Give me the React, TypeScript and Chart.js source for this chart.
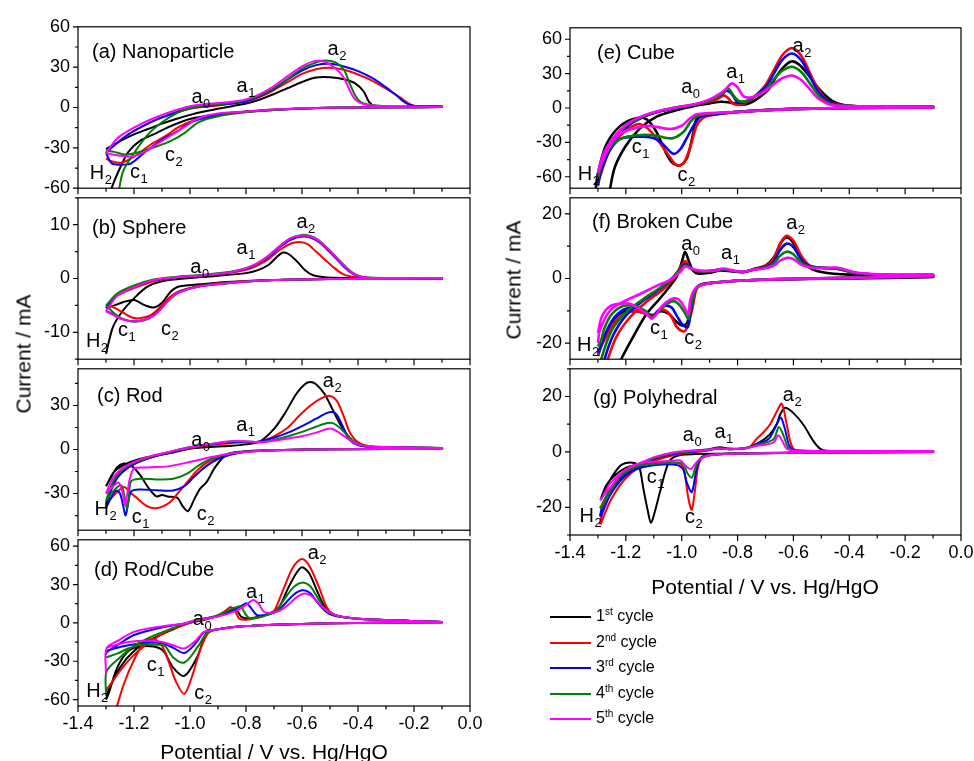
import React, { useEffect, useRef } from "react";
import { Chart, registerables } from "chart.js";

Chart.register(...registerables);

type Pt = [number, number];
type Lab = [string, string, number, number];

const FONT = '"Liberation Sans", Arial, Helvetica, sans-serif';
const CYCLE_COLORS = ["#000000", "#ff0000", "#0000ff", "#008000", "#ff00ff"];
const CYCLE_NUMS = ["1", "2", "3", "4", "5"];
const CYCLE_SUPS = ["st", "nd", "rd", "th", "th"];
const X_TICKS = [-1.4, -1.2, -1.0, -0.8, -0.6, -0.4, -0.2, 0.0];
const X_TITLE = "Potential / V vs. Hg/HgO";
const Y_TITLE = "Current / mA";

// ---------- (a) Nanoparticle : anodic sweep then cathodic sweep ----------
const nanoC1: Pt[] = [[-1.30,-31],[-1.25,-25],[-1.20,-20],[-1.15,-16],[-1.10,-12],[-1.05,-8.5],[-1.00,-5.5],[-0.95,-3],[-0.90,-1],[-0.85,1],[-0.80,3],[-0.75,6],[-0.70,10],[-0.65,14.5],[-0.60,19],[-0.55,22.3],[-0.50,22.5],[-0.45,21],[-0.41,18],[-0.38,12],[-0.36,4],[-0.34,1.2],[-0.28,0.6],[-0.10,0.5],
  [-0.10,0.3],[-0.30,0.1],[-0.50,-0.2],[-0.70,-1.4],[-0.80,-3],[-0.90,-5],[-1.00,-8.5],[-1.06,-13],[-1.12,-19],[-1.18,-25],[-1.22,-33],[-1.25,-45],[-1.28,-60],[-1.30,-75]];
const nanoC2: Pt[] = [[-1.30,-33],[-1.27,-28],[-1.22,-20],[-1.17,-14],[-1.12,-9],[-1.06,-4],[-1.00,-1],[-0.95,0.5],[-0.90,1.5],[-0.85,3],[-0.80,4.5],[-0.75,8],[-0.70,13],[-0.65,19],[-0.60,25],[-0.55,28.5],[-0.50,29.5],[-0.45,28],[-0.40,24.5],[-0.35,20],[-0.30,14],[-0.25,7.5],[-0.215,2.5],[-0.19,1],[-0.10,0.8],
  [-0.10,0.3],[-0.30,0.2],[-0.50,-0.2],[-0.60,-0.8],[-0.70,-1.8],[-0.80,-3.2],[-0.90,-5.5],[-0.98,-9],[-1.04,-14.5],[-1.09,-21.5],[-1.14,-27.5],[-1.20,-36.5],[-1.245,-41],[-1.28,-40],[-1.30,-38]];
const nanoC3: Pt[] = [[-1.30,-34],[-1.27,-28],[-1.22,-20],[-1.17,-14],[-1.12,-9],[-1.06,-4.5],[-1.00,-0.5],[-0.95,1],[-0.90,2],[-0.85,3],[-0.80,4.5],[-0.75,8.5],[-0.70,14],[-0.65,21],[-0.60,27.5],[-0.55,31.5],[-0.50,32.5],[-0.45,30.5],[-0.40,27],[-0.35,22],[-0.30,15],[-0.26,8.5],[-0.23,3.5],[-0.20,1.2],[-0.10,0.8],
  [-0.10,0.3],[-0.50,-0.2],[-0.70,-1.8],[-0.80,-3.2],[-0.90,-5.5],[-0.97,-9],[-1.01,-12.5],[-1.04,-17],[-1.10,-24],[-1.16,-33],[-1.21,-41.5],[-1.245,-42.5],[-1.28,-41.5],[-1.295,-36],[-1.30,-34]];
const nanoC4: Pt[] = [[-1.26,-70],[-1.24,-48],[-1.20,-34],[-1.15,-20],[-1.10,-11],[-1.05,-4.5],[-1.00,-0.5],[-0.95,1.5],[-0.90,2.5],[-0.85,3.5],[-0.80,5.5],[-0.75,9],[-0.70,14.5],[-0.65,21.5],[-0.60,29],[-0.55,33.5],[-0.52,35],[-0.48,33.5],[-0.45,28],[-0.43,18],[-0.41,9],[-0.39,4],[-0.36,2],[-0.30,1],[-0.10,0.6],
  [-0.10,0.3],[-0.50,-0.2],[-0.70,-1.8],[-0.80,-3.5],[-0.90,-6.5],[-0.97,-11],[-1.02,-19],[-1.07,-25],[-1.12,-29],[-1.18,-33],[-1.23,-35],[-1.27,-33],[-1.30,-32]];
const nanoC5: Pt[] = [[-1.30,-34],[-1.26,-23],[-1.20,-15],[-1.13,-8],[-1.06,-2.5],[-1.00,1],[-0.95,2.5],[-0.90,3.3],[-0.85,4.3],[-0.80,6],[-0.75,10],[-0.70,16],[-0.65,23.5],[-0.60,30.5],[-0.56,34.3],[-0.52,34],[-0.48,29],[-0.45,22],[-0.43,13],[-0.41,6],[-0.38,2.5],[-0.33,1.2],[-0.20,0.6],[-0.10,0.5],
  [-0.10,0.3],[-0.50,-0.2],[-0.70,-1.4],[-0.80,-3],[-0.90,-4.5],[-0.97,-8],[-1.02,-14.5],[-1.07,-21],[-1.12,-27.5],[-1.16,-33],[-1.21,-36.5],[-1.26,-35.5],[-1.30,-34]];
const nanoLabels: Lab[] = [["a","0",-0.975,7.4],["a","1",-0.814,15],["a","2",-0.489,42.5],["c","2",-1.071,-36],["c","1",-1.196,-48.8],["H","2",-1.332,-48]];

// ---------- (b) Sphere ----------
const sphC1: Pt[] = [[-1.30,-14],[-1.275,-9],[-1.24,-6],[-1.20,-3.7],[-1.155,-1.6],[-1.10,-0.5],[-1.00,0.1],[-0.90,0.5],[-0.80,1.0],[-0.76,1.5],[-0.72,2.5],[-0.69,4.0],[-0.67,4.8],[-0.65,4.6],[-0.62,3.3],[-0.59,1.6],[-0.56,0.6],[-0.51,0.2],[-0.40,0.1],[-0.10,0.1],
  [-0.10,0],[-0.50,-0.1],[-0.70,-0.3],[-0.85,-0.6],[-0.95,-1.0],[-1.04,-1.5],[-1.07,-2.5],[-1.10,-4.5],[-1.13,-5.4],[-1.16,-5.0],[-1.20,-4.0],[-1.24,-4.4],[-1.27,-5.0],[-1.30,-5.5]];
const sphC2: Pt[] = [[-1.30,-5.2],[-1.26,-3.2],[-1.20,-1.8],[-1.13,-0.5],[-1.05,0.2],[-0.95,0.6],[-0.85,1.1],[-0.80,1.6],[-0.76,2.4],[-0.72,3.6],[-0.68,5.3],[-0.64,6.5],[-0.61,6.8],[-0.58,6.4],[-0.55,5.0],[-0.52,3.6],[-0.49,2.2],[-0.46,1.0],[-0.43,0.4],[-0.38,0.15],[-0.10,0.1],
  [-0.10,0],[-0.50,-0.1],[-0.70,-0.3],[-0.85,-0.7],[-0.96,-1.3],[-1.04,-2.4],[-1.08,-3.8],[-1.11,-5.5],[-1.14,-6.8],[-1.18,-7.4],[-1.21,-7.2],[-1.25,-6.0],[-1.28,-5.2],[-1.30,-5.2]];
const sphC3: Pt[] = [[-1.30,-5.5],[-1.26,-3.0],[-1.20,-1.5],[-1.13,-0.3],[-1.05,0.2],[-0.95,0.6],[-0.85,1.2],[-0.80,1.8],[-0.76,2.7],[-0.72,4.0],[-0.68,5.8],[-0.64,7.2],[-0.60,7.8],[-0.57,7.6],[-0.54,6.8],[-0.51,5.4],[-0.48,3.8],[-0.45,2.2],[-0.42,0.9],[-0.39,0.3],[-0.35,0.1],[-0.10,0.1],
  [-0.10,0],[-0.50,-0.1],[-0.70,-0.3],[-0.85,-0.8],[-0.96,-1.4],[-1.04,-2.5],[-1.07,-3.7],[-1.10,-5.3],[-1.13,-6.8],[-1.16,-7.6],[-1.20,-8.0],[-1.24,-7.6],[-1.27,-6.8],[-1.30,-6.0]];
const sphC4: Pt[] = [[-1.30,-5],[-1.26,-2.8],[-1.20,-1.3],[-1.13,-0.2],[-1.05,0.3],[-0.95,0.7],[-0.85,1.3],[-0.80,1.9],[-0.76,2.8],[-0.72,4.2],[-0.68,6.0],[-0.64,7.5],[-0.60,8.1],[-0.57,7.9],[-0.54,7.1],[-0.51,5.7],[-0.48,4.1],[-0.45,2.5],[-0.42,1.1],[-0.39,0.4],[-0.35,0.15],[-0.10,0.1],
  [-0.10,0],[-0.50,-0.1],[-0.70,-0.3],[-0.85,-0.8],[-0.96,-1.4],[-1.04,-2.6],[-1.07,-3.8],[-1.10,-5.4],[-1.13,-6.9],[-1.16,-7.7],[-1.20,-8.0],[-1.24,-7.5],[-1.27,-6.5],[-1.30,-5.0]];
const sphC5: Pt[] = [[-1.30,-6.1],[-1.26,-3.2],[-1.20,-1.6],[-1.13,-0.3],[-1.05,0.2],[-0.95,0.6],[-0.85,1.2],[-0.80,1.9],[-0.76,2.8],[-0.72,4.2],[-0.68,6.0],[-0.64,7.5],[-0.60,8.0],[-0.57,7.8],[-0.54,7.0],[-0.51,5.6],[-0.48,4.0],[-0.45,2.4],[-0.42,1.0],[-0.39,0.35],[-0.35,0.1],[-0.10,0.1],
  [-0.10,0],[-0.50,-0.1],[-0.70,-0.3],[-0.85,-0.8],[-0.96,-1.4],[-1.04,-2.6],[-1.07,-3.7],[-1.10,-5.5],[-1.13,-6.9],[-1.16,-7.6],[-1.20,-8.0],[-1.24,-7.6],[-1.27,-6.9],[-1.30,-6.1]];
const sphLabels: Lab[] = [["a","2",-0.6,10.3],["a","1",-0.814,5.4],["a","0",-0.979,1.9],["c","2",-1.086,-9.5],["c","1",-1.239,-9.7],["H","2",-1.346,-11.5]];

// ---------- (c) Rod ----------
const rodC1: Pt[] = [[-1.30,-25],[-1.27,-15],[-1.23,-10],[-1.18,-6.5],[-1.12,-4],[-1.06,-2],[-1.00,0.5],[-0.95,1.5],[-0.90,2],[-0.85,2.5],[-0.80,3.5],[-0.75,5.5],[-0.70,14],[-0.66,25],[-0.62,38],[-0.59,44.5],[-0.57,46],[-0.55,44.5],[-0.52,38],[-0.49,27],[-0.46,16],[-0.43,8],[-0.40,3.5],[-0.35,1.6],[-0.10,1],
  [-0.10,0.5],[-0.50,0.2],[-0.70,-0.5],[-0.82,-1.5],[-0.87,-3.5],[-0.91,-12],[-0.94,-22],[-0.965,-27],[-0.985,-34],[-1.007,-42],[-1.025,-39],[-1.045,-33],[-1.08,-32],[-1.10,-31],[-1.12,-32],[-1.145,-27],[-1.18,-17],[-1.21,-11],[-1.235,-9.5],[-1.26,-12],[-1.285,-20],[-1.30,-25]];
const rodC2: Pt[] = [[-1.30,-38],[-1.28,-26],[-1.25,-17],[-1.20,-10],[-1.14,-5.5],[-1.07,-2],[-1.00,1],[-0.95,2.5],[-0.90,3.5],[-0.85,4.5],[-0.80,5],[-0.75,5.5],[-0.70,9],[-0.65,15],[-0.61,23],[-0.57,30],[-0.53,35],[-0.50,36.5],[-0.475,33],[-0.45,22],[-0.43,12],[-0.40,5],[-0.36,2.2],[-0.30,1.3],[-0.10,1],
  [-0.10,0.5],[-0.50,0.2],[-0.70,-0.5],[-0.82,-2],[-0.88,-4.5],[-0.93,-8],[-0.97,-13.5],[-1.00,-20],[-1.04,-29],[-1.075,-36.5],[-1.12,-40],[-1.155,-38.5],[-1.19,-33],[-1.215,-29],[-1.235,-25.5],[-1.26,-29],[-1.285,-34],[-1.30,-38]];
const rodC3: Pt[] = [[-1.30,-40],[-1.28,-27],[-1.25,-17],[-1.20,-10],[-1.14,-5.5],[-1.07,-2],[-1.00,1.5],[-0.95,3],[-0.90,4],[-0.85,5],[-0.80,5],[-0.75,5.5],[-0.70,8],[-0.65,11.5],[-0.60,16],[-0.55,21],[-0.51,25],[-0.49,25.5],[-0.475,23.5],[-0.45,14],[-0.43,6.5],[-0.40,3],[-0.35,1.8],[-0.10,1],
  [-0.10,0.5],[-0.50,0.2],[-0.70,-0.5],[-0.82,-2],[-0.90,-6.5],[-0.95,-12.5],[-0.99,-19.5],[-1.02,-25],[-1.06,-28],[-1.12,-27.8],[-1.18,-27.2],[-1.21,-28.5],[-1.222,-38],[-1.23,-45],[-1.238,-39],[-1.25,-30],[-1.265,-28],[-1.285,-34],[-1.30,-40]];
const rodC4: Pt[] = [[-1.30,-35],[-1.28,-24],[-1.25,-15],[-1.20,-9],[-1.14,-5],[-1.07,-1.5],[-1.00,1.5],[-0.95,3],[-0.90,4.5],[-0.85,5.5],[-0.80,5.5],[-0.75,5],[-0.70,6.5],[-0.65,9],[-0.60,12],[-0.55,15.5],[-0.51,18],[-0.49,18],[-0.46,14],[-0.43,8],[-0.40,4],[-0.35,2],[-0.10,1],
  [-0.10,0.5],[-0.50,0.2],[-0.70,-0.5],[-0.85,-2.5],[-0.92,-6],[-0.97,-11],[-1.01,-16.5],[-1.06,-20],[-1.12,-20.4],[-1.18,-20],[-1.21,-21.5],[-1.219,-33],[-1.225,-40.5],[-1.233,-33],[-1.245,-24.5],[-1.27,-27.5],[-1.30,-35]];
const rodC5: Pt[] = [[-1.30,-30],[-1.28,-21],[-1.25,-14],[-1.20,-8.5],[-1.14,-4.5],[-1.07,-1.5],[-1.00,1.5],[-0.95,3],[-0.90,4.5],[-0.85,5.8],[-0.80,5.5],[-0.75,5],[-0.70,6],[-0.65,7.5],[-0.60,9],[-0.55,11.5],[-0.51,14],[-0.49,14],[-0.46,10.5],[-0.43,6.5],[-0.40,3.5],[-0.35,2],[-0.10,1],
  [-0.10,0.5],[-0.50,0.2],[-0.70,-0.5],[-0.85,-2.5],[-0.92,-5],[-1.00,-8.5],[-1.08,-11.5],[-1.15,-12.2],[-1.20,-13],[-1.215,-20],[-1.224,-30],[-1.232,-38],[-1.24,-30],[-1.255,-22.5],[-1.28,-26],[-1.30,-30]];
const rodLabels: Lab[] = [["a","2",-0.506,46.1],["a","1",-0.815,16],["a","0",-0.976,5.8],["c","2",-0.958,-44.3],["c","1",-1.19,-46.5],["H","2",-1.315,-39.6]];

// ---------- (d) Rod/Cube ----------
const rcC1: Pt[] = [[-1.30,-57],[-1.25,-35],[-1.20,-22],[-1.13,-12],[-1.06,-5],[-1.00,0],[-0.95,2.5],[-0.90,5.5],[-0.86,9.5],[-0.845,11.5],[-0.83,9],[-0.815,4.5],[-0.79,3.5],[-0.75,5],[-0.71,8],[-0.68,13],[-0.65,27],[-0.62,39],[-0.60,43.5],[-0.575,39],[-0.55,27],[-0.52,13],[-0.49,7],[-0.45,4.5],[-0.37,2.8],[-0.10,0.8],
  [-0.10,0.5],[-0.40,0],[-0.60,-0.8],[-0.80,-2.5],[-0.90,-5],[-0.94,-8],[-0.975,-27],[-1.02,-41.5],[-1.06,-35],[-1.095,-22],[-1.13,-18.5],[-1.18,-18.5],[-1.22,-22],[-1.26,-35],[-1.29,-55],[-1.30,-60]];
const rcC2: Pt[] = [[-1.30,-53],[-1.25,-37.5],[-1.20,-25],[-1.14,-14.5],[-1.08,-6.5],[-1.02,-1.5],[-0.98,1.5],[-0.94,3],[-0.90,6],[-0.87,10],[-0.855,12.5],[-0.84,10],[-0.825,3.5],[-0.80,2.5],[-0.76,4],[-0.72,7],[-0.70,9],[-0.667,26],[-0.631,44],[-0.60,50],[-0.572,44],[-0.536,26],[-0.512,12.5],[-0.49,7],[-0.45,4.5],[-0.37,2.8],[-0.10,0.8],
  [-0.10,0.5],[-0.40,0],[-0.60,-0.8],[-0.80,-2.5],[-0.90,-5],[-0.935,-8],[-0.965,-22],[-0.99,-40],[-1.02,-55.5],[-1.05,-46],[-1.075,-31],[-1.10,-18],[-1.13,-12.5],[-1.16,-14],[-1.20,-29],[-1.235,-47],[-1.265,-68]];
const rcC3: Pt[] = [[-1.30,-25],[-1.298,-23],[-1.25,-16],[-1.20,-9.5],[-1.11,-4],[-1.01,0],[-0.97,2.5],[-0.90,5.5],[-0.85,9.5],[-0.815,13.5],[-0.798,15.3],[-0.78,11],[-0.76,6],[-0.72,6.5],[-0.69,9],[-0.665,14],[-0.63,22],[-0.60,25.5],[-0.572,23.5],[-0.545,16],[-0.515,9],[-0.49,6],[-0.45,4.5],[-0.37,2.8],[-0.10,0.8],
  [-0.10,0.5],[-0.40,0],[-0.60,-0.8],[-0.80,-2.5],[-0.90,-5],[-0.95,-7.5],[-0.98,-16],[-1.02,-23.5],[-1.06,-19.5],[-1.10,-16],[-1.16,-15.5],[-1.22,-17.5],[-1.27,-20],[-1.30,-22]];
const rcC4: Pt[] = [[-1.30,-56],[-1.298,-38],[-1.25,-27],[-1.20,-18],[-1.13,-10],[-1.06,-4],[-1.00,1],[-0.95,3],[-0.90,6],[-0.86,10],[-0.82,13],[-0.805,8],[-0.79,4],[-0.76,4],[-0.72,6.5],[-0.69,10],[-0.665,18],[-0.63,28],[-0.60,31.5],[-0.572,29],[-0.545,20],[-0.515,10],[-0.49,6.5],[-0.45,4.5],[-0.37,2.8],[-0.10,0.8],
  [-0.10,0.5],[-0.40,0],[-0.60,-0.8],[-0.80,-2.5],[-0.90,-5],[-0.94,-8],[-0.97,-18],[-1.02,-31],[-1.06,-27],[-1.09,-18],[-1.12,-17],[-1.17,-17],[-1.22,-20],[-1.26,-24],[-1.30,-27]];
const rcC5: Pt[] = [[-1.30,-40],[-1.298,-20],[-1.25,-13],[-1.20,-7],[-1.11,-3],[-1.01,0],[-0.97,2.5],[-0.90,5],[-0.84,9],[-0.80,14],[-0.775,18],[-0.755,15],[-0.735,8.5],[-0.71,8],[-0.68,9.5],[-0.65,14],[-0.62,20],[-0.59,23],[-0.56,20],[-0.53,13],[-0.50,8],[-0.46,5],[-0.37,2.8],[-0.10,0.8],
  [-0.10,0.5],[-0.40,0],[-0.60,-0.8],[-0.80,-2.5],[-0.90,-5],[-0.95,-7],[-0.98,-14],[-1.02,-20],[-1.06,-17.5],[-1.10,-15],[-1.16,-14],[-1.22,-15],[-1.27,-17.5],[-1.30,-19.5]];
const rcLabels: Lab[] = [["a","2",-0.56,53.8],["a","1",-0.78,23.7],["a","0",-0.97,2.5],["c","1",-1.137,-33.7],["c","2",-0.967,-55.3],["H","2",-1.345,-52.8]];

// ---------- (e) Cube ----------
const cubeC1: Pt[] = [[-1.26,-75],[-1.24,-52],[-1.20,-33],[-1.15,-18],[-1.09,-7.5],[-1.02,-2],[-0.95,2],[-0.90,4],[-0.86,5.5],[-0.82,4.5],[-0.79,3],[-0.76,4],[-0.73,8],[-0.69,16],[-0.66,28],[-0.63,37],[-0.605,40.7],[-0.58,38],[-0.55,30],[-0.52,20],[-0.49,12],[-0.46,6],[-0.42,2.5],[-0.35,1.3],[-0.10,1],
  [-0.10,0.5],[-0.40,0],[-0.60,-0.8],[-0.80,-3.4],[-0.90,-6],[-0.945,-9],[-0.958,-21],[-0.98,-43],[-1.005,-50],[-1.03,-48.5],[-1.055,-40],[-1.09,-21],[-1.125,-10],[-1.16,-8.7],[-1.22,-15.6],[-1.27,-32],[-1.30,-57],[-1.31,-75]];
const cubeC2: Pt[] = [[-1.30,-68],[-1.28,-44],[-1.24,-28],[-1.19,-15],[-1.13,-7],[-1.07,-2.5],[-1.00,1],[-0.95,3],[-0.90,5.5],[-0.87,8],[-0.85,11],[-0.835,9],[-0.815,3.6],[-0.79,3],[-0.76,6],[-0.73,12],[-0.70,20],[-0.67,33],[-0.64,46],[-0.605,52.3],[-0.57,45],[-0.54,30],[-0.51,16],[-0.48,7],[-0.45,3.5],[-0.37,1.4],[-0.10,1],
  [-0.10,0.5],[-0.40,0],[-0.60,-0.8],[-0.80,-3.4],[-0.90,-6.5],[-0.925,-9],[-0.947,-15.6],[-0.97,-34.6],[-0.994,-48.5],[-1.018,-49.8],[-1.042,-43],[-1.09,-26.5],[-1.126,-17],[-1.16,-14.2],[-1.22,-24],[-1.26,-38],[-1.29,-58],[-1.30,-68]];
const cubeC3: Pt[] = [[-1.30,-66],[-1.28,-43],[-1.24,-27],[-1.19,-15],[-1.13,-7],[-1.07,-2.5],[-1.00,1],[-0.95,3],[-0.90,6.5],[-0.86,11],[-0.84,15],[-0.82,12],[-0.80,5],[-0.77,5.5],[-0.74,10],[-0.70,18],[-0.67,30],[-0.64,42],[-0.605,47.6],[-0.57,41],[-0.54,27],[-0.51,14],[-0.48,6.5],[-0.45,3],[-0.37,1.4],[-0.10,1],
  [-0.10,0.5],[-0.40,0],[-0.60,-0.8],[-0.80,-3.4],[-0.90,-6],[-0.935,-8],[-0.958,-15.6],[-0.982,-26.3],[-1.005,-36],[-1.03,-40],[-1.066,-32],[-1.10,-26.3],[-1.16,-25],[-1.22,-27],[-1.26,-38],[-1.29,-56],[-1.30,-66]];
const cubeC4: Pt[] = [[-1.30,-62],[-1.28,-41],[-1.24,-26],[-1.19,-14],[-1.13,-6.5],[-1.07,-2],[-1.00,1.2],[-0.95,3.2],[-0.90,6.5],[-0.86,11.5],[-0.833,16.8],[-0.815,11],[-0.797,6.3],[-0.77,6],[-0.74,10],[-0.70,16],[-0.67,25],[-0.64,32.5],[-0.605,36],[-0.57,31],[-0.54,21],[-0.51,11],[-0.48,5],[-0.45,2.5],[-0.37,1.4],[-0.10,1],
  [-0.10,0.5],[-0.40,0],[-0.60,-0.8],[-0.80,-3.4],[-0.90,-5],[-0.947,-7.3],[-0.97,-12.5],[-0.994,-21],[-1.036,-26.5],[-1.10,-23.8],[-1.16,-23.8],[-1.22,-27],[-1.26,-36],[-1.29,-52],[-1.30,-62]];
const cubeC5: Pt[] = [[-1.30,-57],[-1.28,-40],[-1.245,-26],[-1.19,-13],[-1.13,-6],[-1.07,-2],[-1.00,1.5],[-0.95,3.5],[-0.90,7.5],[-0.86,13],[-0.84,17],[-0.821,21.5],[-0.80,18],[-0.78,10.5],[-0.756,9.1],[-0.73,11],[-0.70,15],[-0.67,21],[-0.64,26],[-0.605,28.4],[-0.57,24],[-0.54,16],[-0.51,8],[-0.48,4],[-0.45,2.2],[-0.37,1.4],[-0.10,1],
  [-0.10,0.5],[-0.40,0],[-0.60,-0.8],[-0.80,-3.4],[-0.90,-4.5],[-0.947,-5.5],[-0.97,-9],[-1.00,-15.5],[-1.042,-18.3],[-1.114,-15.6],[-1.16,-17],[-1.221,-22.5],[-1.26,-34],[-1.29,-50],[-1.30,-57]];
const cubeLabels: Lab[] = [["a","2",-0.583,52.9],["a","1",-0.821,30.4],["a","0",-0.982,17.8],["c","1",-1.161,-34.8],["c","2",-0.997,-59.4],["H","2",-1.346,-56.7]];

// ---------- (f) Broken Cube ----------
const brkC1: Pt[] = [[-1.23,-28],[-1.215,-24.7],[-1.173,-17.9],[-1.126,-11],[-1.078,-6.2],[-1.042,-2.3],[-1.018,0.6],[-1.00,5],[-0.988,8.3],[-0.975,5.5],[-0.96,2.5],[-0.94,1.5],[-0.90,1.8],[-0.86,2.5],[-0.82,2.2],[-0.78,2],[-0.74,3],[-0.70,4],[-0.67,6.5],[-0.645,11],[-0.624,12.7],[-0.60,11],[-0.575,6.5],[-0.545,3.5],[-0.50,2],[-0.40,1.2],[-0.10,0.8],
  [-0.10,0.5],[-0.40,0],[-0.70,-0.4],[-0.85,-1],[-0.93,-1.8],[-0.955,-4],[-0.97,-10],[-0.982,-14],[-1.00,-14.5],[-1.024,-13],[-1.045,-11],[-1.075,-10.1],[-1.10,-11.3],[-1.125,-11],[-1.16,-10.1],[-1.21,-10.3],[-1.25,-13.5],[-1.28,-19],[-1.30,-24]];
const brkC2: Pt[] = [[-1.27,-28],[-1.263,-24.7],[-1.233,-17.9],[-1.185,-12],[-1.126,-7.2],[-1.066,-3.3],[-1.03,0],[-1.005,3.5],[-0.988,5.4],[-0.975,4],[-0.96,2.8],[-0.94,2.2],[-0.90,2.2],[-0.86,2.8],[-0.82,2.4],[-0.78,2],[-0.74,2.8],[-0.708,3.5],[-0.672,5.9],[-0.648,10.8],[-0.624,13.2],[-0.60,11.7],[-0.571,6.9],[-0.541,4],[-0.493,3.3],[-0.445,3],[-0.374,1.7],[-0.255,1.1],[-0.10,1.1],
  [-0.10,0.8],[-0.40,0.2],[-0.70,-0.3],[-0.85,-1],[-0.93,-2],[-0.947,-3.3],[-0.964,-10.1],[-0.982,-15.4],[-0.994,-16.4],[-1.018,-15],[-1.036,-12],[-1.054,-10.1],[-1.078,-9.6],[-1.096,-11.1],[-1.114,-11.6],[-1.137,-10.6],[-1.173,-10.1],[-1.209,-11.1],[-1.245,-14],[-1.269,-17.9],[-1.293,-21.7],[-1.30,-24]];
const brkC3: Pt[] = [[-1.28,-28],[-1.275,-24.7],[-1.245,-17.5],[-1.20,-11.5],[-1.14,-7],[-1.08,-3.3],[-1.035,0],[-1.005,3],[-0.988,4.5],[-0.975,3.8],[-0.96,2.8],[-0.94,2.3],[-0.90,2.3],[-0.86,2.8],[-0.82,2.4],[-0.78,2],[-0.74,2.8],[-0.708,3.3],[-0.672,5],[-0.648,8.8],[-0.624,10.8],[-0.60,9.7],[-0.571,5.8],[-0.541,3.8],[-0.493,3.3],[-0.445,3],[-0.374,1.7],[-0.255,1.1],[-0.10,1.1],
  [-0.10,0.8],[-0.40,0.2],[-0.70,-0.3],[-0.85,-1],[-0.93,-2],[-0.95,-3.5],[-0.965,-9],[-0.978,-15],[-0.995,-14.5],[-1.018,-11.5],[-1.036,-9],[-1.06,-8.5],[-1.085,-10],[-1.108,-12],[-1.13,-10.3],[-1.17,-9],[-1.21,-9.7],[-1.245,-12.5],[-1.27,-16.5],[-1.29,-21],[-1.30,-23]];
const brkC4: Pt[] = [[-1.29,-28],[-1.287,-24.7],[-1.25,-16],[-1.20,-10.5],[-1.14,-6.5],[-1.08,-3],[-1.035,0],[-1.005,2.8],[-0.988,4],[-0.975,3.6],[-0.96,2.8],[-0.94,2.3],[-0.90,2.3],[-0.86,2.9],[-0.82,2.4],[-0.78,2],[-0.74,2.8],[-0.708,3.2],[-0.672,4.5],[-0.648,7],[-0.624,8.3],[-0.60,7.5],[-0.571,4.8],[-0.541,3.6],[-0.493,3.3],[-0.445,3.1],[-0.374,1.7],[-0.255,1.1],[-0.10,1.1],
  [-0.10,0.8],[-0.40,0.2],[-0.70,-0.3],[-0.85,-1],[-0.93,-2],[-0.95,-3.5],[-0.965,-8],[-0.976,-12.5],[-0.99,-10.5],[-1.01,-8],[-1.03,-7],[-1.06,-8.3],[-1.085,-10.5],[-1.108,-12.2],[-1.13,-10],[-1.17,-8.5],[-1.21,-8.5],[-1.25,-11],[-1.275,-15],[-1.29,-19.5],[-1.30,-21]];
const brkC5: Pt[] = [[-1.30,-20],[-1.293,-16],[-1.257,-10],[-1.209,-7.2],[-1.149,-4.8],[-1.09,-2.3],[-1.042,-0.4],[-1.006,2],[-0.988,3.7],[-0.97,3.2],[-0.95,2.7],[-0.92,2.4],[-0.88,2.5],[-0.85,3.1],[-0.82,2.6],[-0.78,2.1],[-0.74,2.8],[-0.708,3],[-0.672,3.9],[-0.648,5.5],[-0.624,6.4],[-0.60,6],[-0.571,4.2],[-0.541,3.4],[-0.50,3.2],[-0.445,3.4],[-0.40,2.4],[-0.374,1.8],[-0.255,1.2],[-0.10,1.2],
  [-0.10,0.8],[-0.40,0.2],[-0.70,-0.3],[-0.85,-1],[-0.93,-2],[-0.955,-3.5],[-0.97,-7],[-0.976,-11.1],[-0.99,-9],[-1.005,-7],[-1.018,-6.2],[-1.04,-6.5],[-1.07,-8.5],[-1.09,-11],[-1.108,-12.5],[-1.125,-11],[-1.149,-9.6],[-1.18,-8],[-1.209,-7.7],[-1.257,-8.6],[-1.287,-12],[-1.30,-17]];
const brkLabels: Lab[] = [["a","2",-0.606,16.9],["a","0",-0.982,10.5],["a","1",-0.839,7.6],["c","1",-1.096,-15.5],["c","2",-0.973,-18.8],["H","2",-1.349,-20.3]];

// ---------- (g) Polyhedral ----------
const polyC1: Pt[] = [[-1.29,-17],[-1.27,-12],[-1.24,-8.5],[-1.20,-5.8],[-1.15,-4.3],[-1.10,-3],[-1.05,-1.5],[-1.00,0],[-0.94,0.6],[-0.90,1],[-0.863,1.7],[-0.83,1.2],[-0.78,1.2],[-0.75,2],[-0.72,3.5],[-0.684,6.4],[-0.66,10],[-0.648,13.4],[-0.63,15.9],[-0.60,14],[-0.565,9.9],[-0.529,4],[-0.505,1.2],[-0.48,0.4],[-0.30,0.3],[-0.10,0.3],
  [-0.10,0],[-0.50,-0.2],[-0.80,-0.5],[-0.95,-0.8],[-1.00,-1],[-1.03,-2],[-1.045,-3.5],[-1.06,-7.6],[-1.078,-14.5],[-1.096,-21.5],[-1.11,-25.6],[-1.122,-21],[-1.137,-13.4],[-1.152,-5.5],[-1.17,-4],[-1.20,-4],[-1.22,-5],[-1.25,-9],[-1.28,-15],[-1.29,-17]];
const polyC2: Pt[] = [[-1.29,-26.2],[-1.257,-18],[-1.209,-10.5],[-1.149,-5.2],[-1.09,-2.9],[-1.03,-1.2],[-0.97,-0.3],[-0.92,0.3],[-0.87,1.2],[-0.83,1],[-0.78,1.2],[-0.756,1.8],[-0.732,4.7],[-0.708,7],[-0.684,9.9],[-0.66,14.5],[-0.642,17.4],[-0.624,9.9],[-0.612,4],[-0.60,1.2],[-0.58,0.4],[-0.30,0.3],[-0.10,0.3],
  [-0.10,0],[-0.50,-0.2],[-0.80,-0.6],[-0.90,-1.2],[-0.923,-1.7],[-0.941,-5.2],[-0.952,-13.4],[-0.964,-20.9],[-0.976,-16.9],[-0.988,-8.7],[-1.00,-4.7],[-1.03,-3.8],[-1.09,-3.8],[-1.149,-5.2],[-1.209,-8.1],[-1.245,-12.2],[-1.275,-18],[-1.293,-26.2]];
const polyC3: Pt[] = [[-1.29,-23.5],[-1.257,-15.7],[-1.209,-9.3],[-1.149,-5.2],[-1.09,-2.3],[-1.03,-0.8],[-0.97,0],[-0.92,0.4],[-0.87,1.2],[-0.83,1],[-0.78,1.2],[-0.756,1.8],[-0.732,2.9],[-0.70,4],[-0.684,5.2],[-0.66,9.9],[-0.645,12.4],[-0.63,8.1],[-0.615,2.3],[-0.595,0.6],[-0.30,0.3],[-0.10,0.3],
  [-0.10,0],[-0.50,-0.2],[-0.80,-0.6],[-0.90,-1.2],[-0.93,-2],[-0.947,-6.4],[-0.964,-14.5],[-0.982,-11],[-0.994,-6.4],[-1.018,-4.7],[-1.09,-4.7],[-1.149,-5.8],[-1.209,-8.7],[-1.245,-12.8],[-1.28,-18],[-1.293,-23.3]];
const polyC4: Pt[] = [[-1.29,-20.5],[-1.257,-13.5],[-1.209,-8],[-1.149,-4.5],[-1.09,-2],[-1.03,-0.5],[-0.97,0.2],[-0.92,0.5],[-0.87,1.2],[-0.83,1],[-0.78,1.2],[-0.756,1.8],[-0.73,2.6],[-0.70,3.3],[-0.67,4.7],[-0.652,9],[-0.635,5.8],[-0.62,1.7],[-0.60,0.5],[-0.30,0.3],[-0.10,0.3],
  [-0.10,0],[-0.50,-0.2],[-0.80,-0.6],[-0.90,-1.2],[-0.935,-2.5],[-0.952,-6],[-0.964,-9.3],[-0.98,-7.6],[-0.998,-4.1],[-1.09,-4.3],[-1.15,-5],[-1.209,-7.6],[-1.25,-13.4],[-1.293,-20.3]];
const polyC5: Pt[] = [[-1.29,-17.5],[-1.257,-11.5],[-1.209,-7],[-1.149,-4],[-1.09,-1.6],[-1.03,-0.2],[-0.97,0.4],[-0.92,0.6],[-0.87,1.2],[-0.83,1],[-0.78,1.2],[-0.756,1.6],[-0.73,2.2],[-0.70,2.6],[-0.67,3.5],[-0.655,6],[-0.64,4],[-0.625,1.2],[-0.60,0.5],[-0.30,0.3],[-0.10,0.3],
  [-0.10,0],[-0.50,-0.2],[-0.80,-0.6],[-0.90,-1.2],[-0.94,-3],[-0.958,-5.2],[-0.968,-6.2],[-0.985,-5.2],[-1.005,-3.1],[-1.05,-3.3],[-1.149,-4.1],[-1.209,-7],[-1.25,-12.2],[-1.293,-17.4]];
const polyLabels: Lab[] = [["a","2",-0.618,20.1],["a","0",-0.976,5.8],["a","1",-0.863,7],["c","1",-1.107,-9.3],["c","2",-0.97,-23.8],["H","2",-1.34,-22.7]];

interface PanelCfg {
  id: string;
  title: string;
  titleDx: number;
  titleDy: number;
  left: number;
  top: number;
  width: number;
  height: number;
  yMin: number;
  yMax: number;
  yStep: number;
  xLabels: boolean;
  lw: number;
  cycles: Pt[][];
  labels: Lab[];
}

const PANELS: PanelCfg[] = [
  { id: "a", title: "(a) Nanoparticle", titleDx: 14, titleDy: 31, left: 78, top: 22, width: 392, height: 171, yMin: -60, yMax: 60, yStep: 30, xLabels: false, lw: 2, cycles: [nanoC1, nanoC2, nanoC3, nanoC4, nanoC5], labels: nanoLabels },
  { id: "b", title: "(b) Sphere", titleDx: 14, titleDy: 36, left: 78, top: 193, width: 392, height: 171, yMin: -15, yMax: 15, yStep: 10, xLabels: false, lw: 2, cycles: [sphC1, sphC2, sphC3, sphC4, sphC5], labels: sphLabels },
  { id: "c", title: "(c) Rod", titleDx: 19, titleDy: 33, left: 78, top: 364, width: 392, height: 171, yMin: -55, yMax: 55, yStep: 30, xLabels: false, lw: 2, cycles: [rodC1, rodC2, rodC3, rodC4, rodC5], labels: rodLabels },
  { id: "d", title: "(d) Rod/Cube", titleDx: 16, titleDy: 36, left: 78, top: 535, width: 392, height: 171, yMin: -65, yMax: 65, yStep: 30, xLabels: true, lw: 2, cycles: [rcC1, rcC2, rcC3, rcC4, rcC5], labels: rcLabels },
  { id: "e", title: "(e) Cube", titleDx: 27, titleDy: 31, left: 570, top: 23, width: 391, height: 170, yMin: -70, yMax: 70, yStep: 30, xLabels: false, lw: 2.6, cycles: [cubeC1, cubeC2, cubeC3, cubeC4, cubeC5], labels: cubeLabels },
  { id: "f", title: "(f) Broken Cube", titleDx: 22, titleDy: 30, left: 570, top: 193, width: 391, height: 171, yMin: -25, yMax: 25, yStep: 20, xLabels: false, lw: 2.6, cycles: [brkC1, brkC2, brkC3, brkC4, brkC5], labels: brkLabels },
  { id: "g", title: "(g) Polyhedral", titleDx: 23, titleDy: 35, left: 570, top: 364, width: 391, height: 171, yMin: -30, yMax: 30, yStep: 20, xLabels: true, lw: 2, cycles: [polyC1, polyC2, polyC3, polyC4, polyC5], labels: polyLabels },
];

const PAD_L = 70;
const PAD_T = 14;
const PAD_R = 20;

function decorPlugin(cfg: PanelCfg) {
  return {
    id: "decor_" + cfg.id,
    afterDatasetsDraw(chart: any) {
      const { ctx, chartArea: a } = chart;
      const xs = chart.scales.x;
      const ys = chart.scales.y;
      ctx.save();
      ctx.strokeStyle = "#000";
      ctx.lineWidth = 1.2;
      ctx.strokeRect(a.left, a.top, a.right - a.left, a.bottom - a.top);
      ctx.beginPath();
      const half = cfg.yStep / 2;
      for (let k = Math.ceil(cfg.yMin / half); k * half <= cfg.yMax + 1e-9; k++) {
        const py = ys.getPixelForValue(k * half);
        const len = k % 2 === 0 ? 5 : 3;
        ctx.moveTo(a.left - len, py);
        ctx.lineTo(a.left, py);
      }
      for (let k = -14; k <= 0; k++) {
        const px = xs.getPixelForValue(k / 10);
        const len = k % 2 === 0 ? 6 : 3.5;
        ctx.moveTo(px, a.bottom);
        ctx.lineTo(px, a.bottom + len);
      }
      ctx.stroke();
      ctx.fillStyle = "#000";
      ctx.textBaseline = "alphabetic";
      ctx.font = `20px ${FONT}`;
      ctx.textAlign = "left";
      ctx.fillText(cfg.title, a.left + cfg.titleDx, a.top + cfg.titleDy);
      for (const [m, s, vx, vy] of cfg.labels) {
        const px = xs.getPixelForValue(vx);
        const py = ys.getPixelForValue(vy);
        ctx.font = `20px ${FONT}`;
        ctx.textAlign = "center";
        const base = py + (m === "H" ? 7 : 5);
        ctx.fillText(m, px, base);
        const w = ctx.measureText(m).width;
        ctx.font = `13px ${FONT}`;
        ctx.textAlign = "left";
        ctx.fillText(s, px + w / 2 + 0.5, base + 5);
      }
      ctx.restore();
    },
  };
}

function Panel({ cfg }: { cfg: PanelCfg }) {
  const ref = useRef<HTMLCanvasElement>(null);
  const padB = cfg.xLabels ? 40 : 14;
  const cw = cfg.width + PAD_L + PAD_R;
  const chH = cfg.height + PAD_T + padB;
  useEffect(() => {
    const yTicks: number[] = [];
    for (let k = Math.ceil(cfg.yMin / cfg.yStep); k * cfg.yStep <= cfg.yMax; k++) yTicks.push(k * cfg.yStep);
    const tickFont = { family: FONT, size: 18 };
    const chart = new Chart(ref.current as HTMLCanvasElement, {
      type: "scatter",
      data: {
        datasets: cfg.cycles.map((pts, i) => ({
          label: CYCLE_NUMS[i] + CYCLE_SUPS[i] + " cycle",
          data: pts.map(([x, y]) => ({ x, y })),
          showLine: true,
          borderColor: CYCLE_COLORS[i],
          backgroundColor: CYCLE_COLORS[i],
          borderWidth: cfg.lw,
          pointRadius: 0,
          pointHoverRadius: 0,
          tension: 0.3,
          fill: false,
          order: 5 - i,
        })),
      },
      options: {
        responsive: false,
        animation: false,
        devicePixelRatio: 1,
        events: [],
        layout: { padding: { left: 0, top: PAD_T, right: PAD_R, bottom: 0 } },
        plugins: { legend: { display: false }, tooltip: { enabled: false }, title: { display: false } },
        scales: {
          x: {
            type: "linear",
            min: -1.4,
            max: 0,
            grid: { display: false, drawTicks: false },
            border: { display: false },
            ticks: {
              display: cfg.xLabels,
              padding: 7,
              color: "#000",
              font: tickFont,
              maxRotation: 0,
              callback: (v: any) => Number(v).toFixed(1),
            },
            afterBuildTicks: (s: any) => {
              s.ticks = X_TICKS.map((v) => ({ value: v }));
            },
            afterFit: (s: any) => {
              s.height = padB;
            },
          },
          y: {
            type: "linear",
            min: cfg.yMin,
            max: cfg.yMax,
            grid: { display: false, drawTicks: false },
            border: { display: false },
            ticks: {
              padding: 8,
              color: "#000",
              font: tickFont,
              callback: (v: any) => String(Math.round(Number(v))),
            },
            afterBuildTicks: (s: any) => {
              s.ticks = yTicks.map((v) => ({ value: v }));
            },
            afterFit: (s: any) => {
              s.width = PAD_L;
            },
          },
        },
      } as any,
      plugins: [decorPlugin(cfg)],
    });
    return () => chart.destroy();
  }, []);
  return (
    <canvas
      ref={ref}
      width={cw}
      height={chH}
      style={{ position: "absolute", left: cfg.left - PAD_L, top: cfg.top - PAD_T, width: cw, height: chH }}
    />
  );
}

const LEGEND_X = 550;
const LEGEND_Y = [617, 642.5, 668, 693.5, 719];

export default function App() {
  const textBase: React.CSSProperties = { position: "absolute", whiteSpace: "nowrap", color: "#000", fontFamily: FONT };
  return (
    <div style={{ position: "absolute", left: 0, top: 0, width: 974, height: 761, overflow: "hidden", background: "#fff", fontFamily: FONT }}>
      {PANELS.map((p) => (
        <Panel key={p.id} cfg={p} />
      ))}
      <div style={{ ...textBase, left: 23, top: 354, fontSize: 21, lineHeight: "21px", transform: "translate(-50%,-50%) rotate(-90deg)" }}>{Y_TITLE}</div>
      <div style={{ ...textBase, left: 513, top: 280, fontSize: 21, lineHeight: "21px", transform: "translate(-50%,-50%) rotate(-90deg)" }}>{Y_TITLE}</div>
      <div style={{ ...textBase, left: 274, top: 751, fontSize: 21, lineHeight: "21px", transform: "translate(-50%,-50%)" }}>{X_TITLE}</div>
      <div style={{ ...textBase, left: 765, top: 586, fontSize: 21, lineHeight: "21px", transform: "translate(-50%,-50%)" }}>{X_TITLE}</div>
      {CYCLE_NUMS.map((n, i) => (
        <React.Fragment key={n}>
          <div style={{ position: "absolute", left: LEGEND_X, top: LEGEND_Y[i] - 1, width: 41, height: 2, background: CYCLE_COLORS[i] }} />
          <div style={{ ...textBase, left: 596, top: LEGEND_Y[i], fontSize: 16, lineHeight: "16px", transform: "translateY(-50%)" }}>
            {n}
            <span style={{ fontSize: 10, position: "relative", top: -6 }}>{CYCLE_SUPS[i]}</span> cycle
          </div>
        </React.Fragment>
      ))}
    </div>
  );
}
